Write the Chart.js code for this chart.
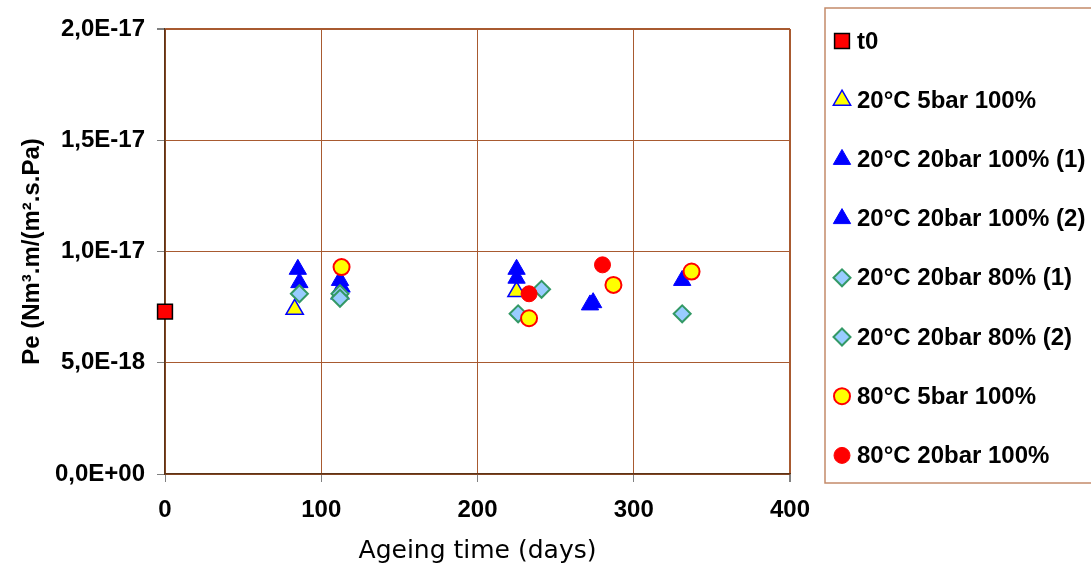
<!DOCTYPE html>
<html lang="en">
<head>
  <meta charset="UTF-8">
  <title>Pe vs ageing time</title>
  <style>
    body {
      margin: 0;
      background: #fff;
    }

    #chartContainer {
      width: 1091px;
      height: 569px;
    }
  </style>
</head>
<body>
  <div id="chartContainer">
    <canvas id="peChart"></canvas>
  </div>

  <script src="https://cdn.jsdelivr.net/npm/chart.js"></script>
  <script>
    // values in units of 1e-18 Nm3.m/(m2.s.Pa)
    const UNIT = 1e-18;

    const seriesNames = [
      't0',
      '20°C 5bar 100%',
      '20°C 20bar 100% (1)',
      '20°C 20bar 100% (2)',
      '20°C 20bar 80% (1)',
      '20°C 20bar 80% (2)',
      '80°C 5bar 100%',
      '80°C 20bar 100%'
    ];

    const t0Days = [0];
    const t0Pe = [7.3];

    const s20c5b100Days = [83, 112, 225];
    const s20c5b100Pe = [7.4, 8.1, 8.2];

    const s20c20b100aDays = [85, 112, 225, 272, 331];
    const s20c20b100aPe = [9.2, 8.7, 9.2, 7.6, 8.7];

    const s20c20b100bDays = [86, 113, 225, 274];
    const s20c20b100bPe = [8.6, 8.4, 8.8, 7.7];

    const s20c20b80aDays = [86, 112, 241, 331];
    const s20c20b80aPe = [8.1, 8.1, 8.3, 7.2];

    const s20c20b80bDays = [112, 226];
    const s20c20b80bPe = [7.9, 7.2];

    const s80c5b100Days = [113, 233, 287, 337];
    const s80c5b100Pe = [9.3, 7.0, 8.5, 9.1];

    const s80c20b100Days = [233, 280];
    const s80c20b100Pe = [8.1, 9.4];

    const xTicks = [0, 100, 200, 300, 400];
    const yTicks = [0, 5, 10, 15, 20];

    function pts(xs, ys) {
      return xs.map((x, i) => ({ x: x, y: ys[i] }));
    }

    function fmt(v) {
      const s = (v * UNIT).toExponential(1);
      let [m, e] = s.split('e');
      const sign = e[0] === '-' ? '-' : '+';
      e = e.replace(/[+-]/, '').padStart(2, '0');
      return m.replace('.', ',') + 'E' + sign + e;
    }

    const styles = [
      { pointStyle: 'rect', radius: 10.5, bg: '#ff0000', border: '#000000', bw: 1.5 },
      { pointStyle: 'triangle', radius: 10, bg: '#ffff00', border: '#0000ff', bw: 1.5 },
      { pointStyle: 'triangle', radius: 10, bg: '#0000ff', border: '#0000ff', bw: 1 },
      { pointStyle: 'triangle', radius: 10, bg: '#0000ff', border: '#0000ff', bw: 1 },
      { pointStyle: 'rectRot', radius: 8.5, bg: '#99ccff', border: '#339966', bw: 2 },
      { pointStyle: 'rectRot', radius: 8.5, bg: '#99ccff', border: '#339966', bw: 2 },
      { pointStyle: 'circle', radius: 8, bg: '#ffff00', border: '#ff0000', bw: 2 },
      { pointStyle: 'circle', radius: 8, bg: '#ff0000', border: '#ff0000', bw: 1 }
    ];

    const seriesData = [
      pts(t0Days, t0Pe),
      pts(s20c5b100Days, s20c5b100Pe),
      pts(s20c20b100aDays, s20c20b100aPe),
      pts(s20c20b100bDays, s20c20b100bPe),
      pts(s20c20b80aDays, s20c20b80aPe),
      pts(s20c20b80bDays, s20c20b80bPe),
      pts(s80c5b100Days, s80c5b100Pe),
      pts(s80c20b100Days, s80c20b100Pe)
    ];

    const datasets = seriesNames.map((name, i) => ({
      label: name,
      data: seriesData[i],
      showLine: false,
      clip: false,
      pointStyle: styles[i].pointStyle,
      pointRadius: styles[i].radius,
      pointBackgroundColor: styles[i].bg,
      pointBorderColor: styles[i].border,
      pointBorderWidth: styles[i].bw,
      order: seriesNames.length - i
    }));

    // legend box on the right, drawn from the dataset styles
    const boxLegend = {
      id: 'boxLegend',
      afterDraw(chart) {
        const ctx = chart.ctx;
        ctx.save();
        ctx.strokeStyle = '#c48a6a';
        ctx.lineWidth = 1.5;
        ctx.strokeRect(825, 8, 300, 475);
        ctx.font = 'bold 24px "Liberation Sans", Arial, sans-serif';
        ctx.textBaseline = 'middle';
        ctx.textAlign = 'left';
        chart.data.datasets.forEach((ds, i) => {
          const y = 41 + i * 59.2;
          ctx.fillStyle = ds.pointBackgroundColor;
          ctx.strokeStyle = ds.pointBorderColor;
          ctx.lineWidth = ds.pointBorderWidth;
          Chart.helpers.drawPoint(ctx, {
            pointStyle: ds.pointStyle,
            radius: ds.pointRadius,
            rotation: 0,
            borderWidth: ds.pointBorderWidth
          }, 842, y);
          ctx.fillStyle = '#000';
          ctx.fillText(ds.label, 857, y + 1);
        });
        ctx.restore();
      }
    };

    const gridColor = '#a85a30';

    const ctx = document.getElementById('peChart').getContext('2d');
    const peChart = new Chart(ctx, {
      type: 'scatter',
      data: { datasets: datasets },
      plugins: [boxLegend],
      options: {
        responsive: true,
        maintainAspectRatio: false,
        animation: false,
        layout: { padding: { top: 29, right: 301, left: 0, bottom: 0 } },
        plugins: {
          legend: { display: false },
          tooltip: { enabled: false }
        },
        scales: {
          x: {
            type: 'linear',
            min: 0,
            max: 400,
            afterFit: s => { s.height = 95; },
            afterBuildTicks: s => { s.ticks = xTicks.map(v => ({ value: v })); },
            grid: {
              color: gridColor,
              lineWidth: c => (c.tick && c.tick.value === 400 ? 2 : 1),
              tickColor: '#808080',
              tickLength: 8
            },
            border: { color: '#5c3317', width: 1.5 },
            ticks: {
              color: '#000',
              padding: 14,
              font: { family: '"Liberation Sans", Arial, sans-serif', size: 24, weight: 'bold' }
            },
            title: {
              display: true,
              text: 'Ageing time (days)',
              color: '#000',
              padding: { top: 0, bottom: 3 },
              font: { family: '"DejaVu Sans", sans-serif', size: 25 }
            }
          },
          y: {
            min: 0,
            max: 20,
            afterFit: s => { s.width = 165; },
            afterBuildTicks: s => { s.ticks = yTicks.map(v => ({ value: v })); },
            grid: {
              color: gridColor,
              lineWidth: c => (c.tick && c.tick.value === 20 ? 2 : 1),
              tickColor: '#808080',
              tickLength: 8
            },
            border: { color: '#5c3317', width: 1.5 },
            ticks: {
              color: '#000',
              padding: 12,
              callback: v => fmt(v),
              font: { family: '"Liberation Sans", Arial, sans-serif', size: 24, weight: 'bold' }
            },
            title: {
              display: true,
              text: 'Pe (Nm³.m/(m².s.Pa)',
              color: '#000',
              padding: { top: 18, bottom: 0 },
              font: { family: '"Liberation Sans", Arial, sans-serif', size: 24, weight: 'bold' }
            }
          }
        }
      }
    });
  </script>
</body>
</html>
